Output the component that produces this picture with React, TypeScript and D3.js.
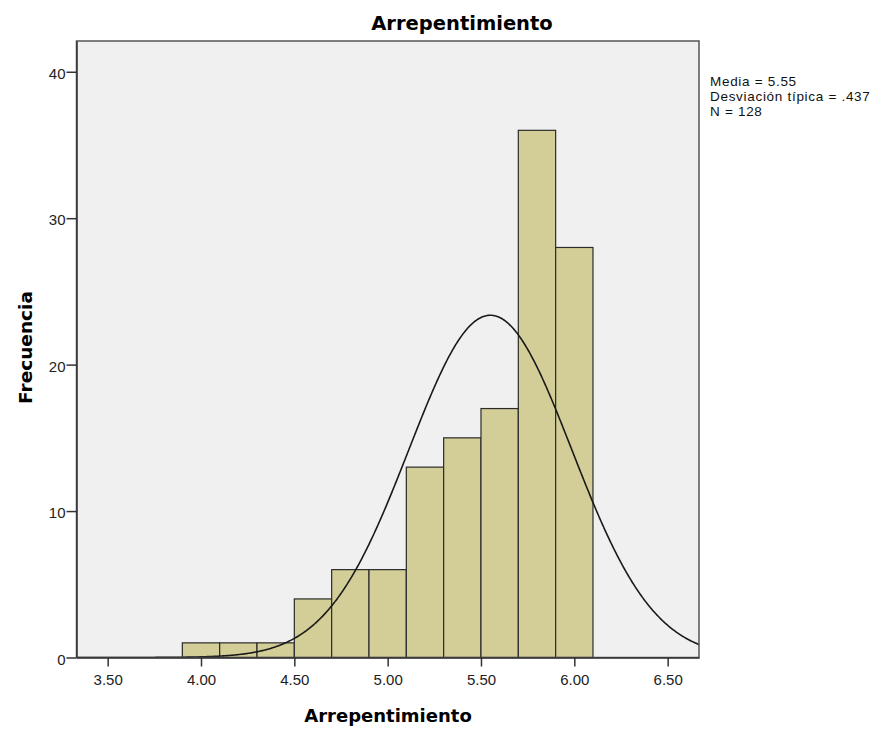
import React, { useEffect, useRef } from 'react';
import * as d3 from 'd3';

// histogram bins (lower edge) and frequencies
const binStarts = [3.9, 4.1, 4.3, 4.5, 4.7, 4.9, 5.1, 5.3, 5.5, 5.7, 5.9];
const frequencies = [1, 1, 1, 4, 6, 6, 13, 15, 17, 36, 28];
const binWidth = 0.2;

const xTicks = [3.5, 4.0, 4.5, 5.0, 5.5, 6.0, 6.5];
const yTicks = [0, 10, 20, 30, 40];

const stats = { mean: 5.55, sd: 0.437, n: 128 };
const statLines = ['Media = 5.55', 'Desviación típica = .437', 'N = 128'];

const App: React.FC = () => {
	const svgRef = useRef<SVGSVGElement | null>(null);

	useEffect(() => {
		if (svgRef.current == null) return;

		const width = 888;
		const height = 730;
		const left = 76.5, right = 699, top = 41, bottom = 657.5;

		const x = d3.scaleLinear().domain([3.333, 6.668]).range([left, right]);
		const y = d3.scaleLinear().domain([0, 42.1]).range([bottom, top]);

		const svg = d3.select(svgRef.current);
		svg.selectAll('*').remove();
		svg.attr('width', width).attr('height', height);

		const font = 'Arial, "Liberation Sans", sans-serif';
		const boldFont = '"DejaVu Sans", Verdana, sans-serif';

		svg.append('rect')
			.attr('x', left).attr('y', top)
			.attr('width', right - left).attr('height', bottom - top)
			.attr('fill', '#f0f0f0');

		const clip = svg.append('clipPath').attr('id', 'plotclip');
		clip.append('rect')
			.attr('x', left).attr('y', top)
			.attr('width', right - left).attr('height', bottom - top);

		svg.append('g')
			.selectAll('rect')
			.data(binStarts)
			.join('rect')
			.attr('x', d => x(d))
			.attr('y', (d, i) => y(frequencies[i]))
			.attr('width', d => x(d + binWidth) - x(d))
			.attr('height', (d, i) => y(0) - y(frequencies[i]))
			.attr('fill', '#d3ce97')
			.attr('stroke', '#2b2b2b')
			.attr('stroke-width', 1.2);

		// fitted normal curve scaled to counts
		const pdf = (v: number) =>
			stats.n * binWidth / (stats.sd * Math.sqrt(2 * Math.PI)) *
			Math.exp(-0.5 * ((v - stats.mean) / stats.sd) ** 2);
		const xs = d3.range(3.333, 6.67, 0.005);
		const line = d3.line<number>().x(d => x(d)).y(d => y(pdf(d)));
		svg.append('path')
			.datum(xs)
			.attr('clip-path', 'url(#plotclip)')
			.attr('fill', 'none')
			.attr('stroke', '#1a1a1a')
			.attr('stroke-width', 1.6)
			.attr('d', line);

		svg.append('rect')
			.attr('x', left).attr('y', top)
			.attr('width', right - left).attr('height', bottom - top)
			.attr('fill', 'none')
			.attr('stroke', '#555')
			.attr('stroke-width', 1.5);

		const xAxis = svg.append('g')
			.attr('transform', `translate(0,${bottom})`)
			.call(d3.axisBottom(x).tickValues(xTicks).tickFormat(d3.format('.2f')).tickSize(9).tickSizeOuter(0));
		xAxis.select('.domain').attr('stroke', '#333').attr('stroke-width', 1.5);
		xAxis.selectAll('.tick line').attr('stroke', '#333').attr('stroke-width', 1.5);
		xAxis.selectAll('.tick text')
			.attr('font-family', font).attr('font-size', 15).attr('fill', '#222')
			.attr('y', 27.5).attr('dy', null);

		const yAxis = svg.append('g')
			.attr('transform', `translate(${left},0)`)
			.call(d3.axisLeft(y).tickValues(yTicks).tickSize(10).tickSizeOuter(0));
		yAxis.select('.domain').attr('stroke', '#333').attr('stroke-width', 1.5);
		yAxis.selectAll('.tick line').attr('stroke', '#333').attr('stroke-width', 1.5);
		yAxis.selectAll('.tick text')
			.attr('font-family', font).attr('font-size', 15).attr('fill', '#222')
			.attr('x', -11).attr('dy', '0.45em');

		svg.append('text')
			.attr('x', 462).attr('y', 29.5)
			.attr('text-anchor', 'middle')
			.attr('font-family', boldFont).attr('font-weight', 'bold').attr('font-size', 19.5)
			.text('Arrepentimiento');

		svg.append('text')
			.attr('x', 388).attr('y', 721.5)
			.attr('text-anchor', 'middle')
			.attr('font-family', boldFont).attr('font-weight', 'bold').attr('font-size', 18)
			.text('Arrepentimiento');

		svg.append('text')
			.attr('transform', 'translate(32,347.5) rotate(-90)')
			.attr('text-anchor', 'middle')
			.attr('font-family', boldFont).attr('font-weight', 'bold').attr('font-size', 18.5)
			.text('Frecuencia');

		svg.append('g')
			.selectAll('text')
			.data(statLines)
			.join('text')
			.attr('x', 710)
			.attr('y', (d, i) => 86 + i * 15)
			.attr('font-family', font).attr('font-size', 13.5).attr('fill', '#111')
			.attr('letter-spacing', 0.7)
			.text(d => d);
	}, []);

	return (
		<>
			<style>{'body{margin:0}'}</style>
			<svg ref={svgRef}></svg>
		</>
	);
};

export default App;
